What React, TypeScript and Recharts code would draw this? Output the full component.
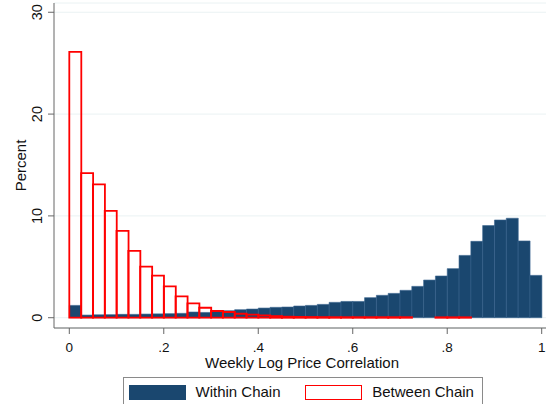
import React from "react";
import { ComposedChart, Bar, XAxis, YAxis, CartesianGrid } from "recharts";

// histogram bins of width .025 (start of each bin)
const binStarts = [
  0, 0.025, 0.05, 0.075, 0.1, 0.125, 0.15, 0.175, 0.2, 0.225,
  0.25, 0.275, 0.3, 0.325, 0.35, 0.375, 0.4, 0.425, 0.45, 0.475,
  0.5, 0.525, 0.55, 0.575, 0.6, 0.625, 0.65, 0.675, 0.7, 0.725,
  0.75, 0.775, 0.8, 0.825, 0.85, 0.875, 0.9, 0.925, 0.95, 0.975,
];

const withinChain = [
  1.21, 0.26, 0.29, 0.3, 0.33, 0.33, 0.36, 0.38, 0.4, 0.43,
  0.56, 0.52, 0.62, 0.69, 0.79, 0.85, 0.95, 1.02, 1.05, 1.15,
  1.21, 1.31, 1.51, 1.6, 1.6, 1.97, 2.2, 2.39, 2.69, 3.08,
  3.7, 4.1, 4.82, 6.12, 7.5, 9.05, 9.6, 9.77, 7.54, 4.16,
];

const betweenChain = [
  26.1, 14.2, 13.1, 10.5, 8.52, 6.56, 5.02, 4.13, 3.08, 2.1,
  1.41, 0.98, 0.66, 0.56, 0.39, 0.3, 0.23, 0.16, 0.1, 0.08,
  0.07, 0.06, 0.05, 0.05, 0.05, 0.05, 0.05, 0.05, 0.05, 0,
  0, 0.04, 0.04, 0.04, 0, 0, 0, 0, 0, 0,
];

const xTicks = [0, 0.2, 0.4, 0.6, 0.8, 1];
const yTicks = [0, 10, 20, 30];

const NAVY = "#1a476f";
const RED = "#ff0000";
const FONT = "'Liberation Sans', Arial, sans-serif";

const data = binStarts.map((b, i) => ({
  bin: b,
  within: withinChain[i],
  between: betweenChain[i],
}));

const fmtX = (v: number) => (v === 0 || v === 1 ? String(v) : String(v).replace(/^0/, ""));

const YTick = (props: any) => {
  const { y, payload } = props;
  return (
    <text
      x={0}
      y={0}
      transform={`translate(41.7, ${y}) rotate(-90)`}
      textAnchor="middle"
      fontSize={14.5}
      fontFamily={FONT}
      fill="#111"
    >
      {payload.value}
    </text>
  );
};

const YTitle = (props: any) => {
  const vb = props.viewBox;
  return (
    <text
      x={0}
      y={0}
      transform={`translate(25.5, ${vb.y + vb.height / 2}) rotate(-90)`}
      textAnchor="middle"
      fontSize={15}
      fontFamily={FONT}
      fill="#111"
    >
      Percent
    </text>
  );
};

const XTitle = (props: any) => {
  const vb = props.viewBox;
  return (
    <text
      x={vb.x + vb.width / 2 + 2}
      y={vb.y + 40}
      textAnchor="middle"
      fontSize={15}
      fontFamily={FONT}
      fill="#111"
    >
      Weekly Log Price Correlation
    </text>
  );
};

export default function App() {
  return (
    <div
      style={{
        position: "absolute",
        left: 0,
        top: 0,
        width: 546,
        height: 404,
        overflow: "hidden",
        background: "#fff",
        fontFamily: FONT,
      }}
    >
      <ComposedChart
        width={546}
        height={404}
        data={data}
        margin={{ top: 3, right: 0, bottom: 46, left: 0 }}
        barCategoryGap={0}
        barGap={0}
      >
        <CartesianGrid xAxisId="a" vertical={false} stroke="#eaf2f3" strokeWidth={1} />
        <XAxis
          xAxisId="a"
          dataKey="bin"
          type="number"
          domain={[0, 1]}
          allowDataOverflow
          ticks={xTicks}
          tickFormatter={fmtX}
          padding={{ left: 15.3, right: 4.3 }}
          height={30}
          tickSize={6}
          tickMargin={8}
          stroke="#666"
          tick={{ fill: "#111", fontSize: 13.5, fontFamily: FONT }}
          label={{ content: XTitle }}
        />
        <XAxis xAxisId="w" dataKey="bin" hide height={0} padding={{ left: 15.3, right: 4.3 }} />
        <XAxis xAxisId="x" dataKey="bin" hide height={0} padding={{ left: 15.3, right: 4.3 }} />
        <YAxis
          width={54}
          domain={[-1.01, 30.91]}
          allowDataOverflow
          ticks={yTicks}
          tickSize={6}
          stroke="#666"
          tick={YTick}
          label={{ content: YTitle }}
        />
        <Bar
          xAxisId="w"
          dataKey="within"
          fill={NAVY}
          stroke="#3d6790"
          strokeWidth={0.6}
          isAnimationActive={false}
        />
        <Bar
          xAxisId="x"
          dataKey="between"
          fill="none"
          stroke={RED}
          strokeWidth={1.8}
          isAnimationActive={false}
        />
      </ComposedChart>

      {/* legend box */}
      <div
        style={{
          position: "absolute",
          left: 122.5,
          top: 377.3,
          width: 360,
          height: 34,
          border: "1px solid #8a8a8a",
          boxSizing: "border-box",
          background: "#fff",
        }}
      >
        <div
          style={{
            position: "absolute",
            left: 5.3,
            top: 7,
            width: 57.7,
            height: 15,
            background: NAVY,
          }}
        />
        <div
          style={{
            position: "absolute",
            left: 72,
            top: 5,
            fontSize: 15,
            lineHeight: "18px",
            color: "#111",
          }}
        >
          Within Chain
        </div>
        <div
          style={{
            position: "absolute",
            left: 181.5,
            top: 7,
            width: 56.7,
            height: 15,
            border: `1.5px solid ${RED}`,
            boxSizing: "border-box",
          }}
        />
        <div
          style={{
            position: "absolute",
            left: 248.7,
            top: 5,
            fontSize: 15,
            lineHeight: "18px",
            color: "#111",
          }}
        >
          Between Chain
        </div>
      </div>
    </div>
  );
}
